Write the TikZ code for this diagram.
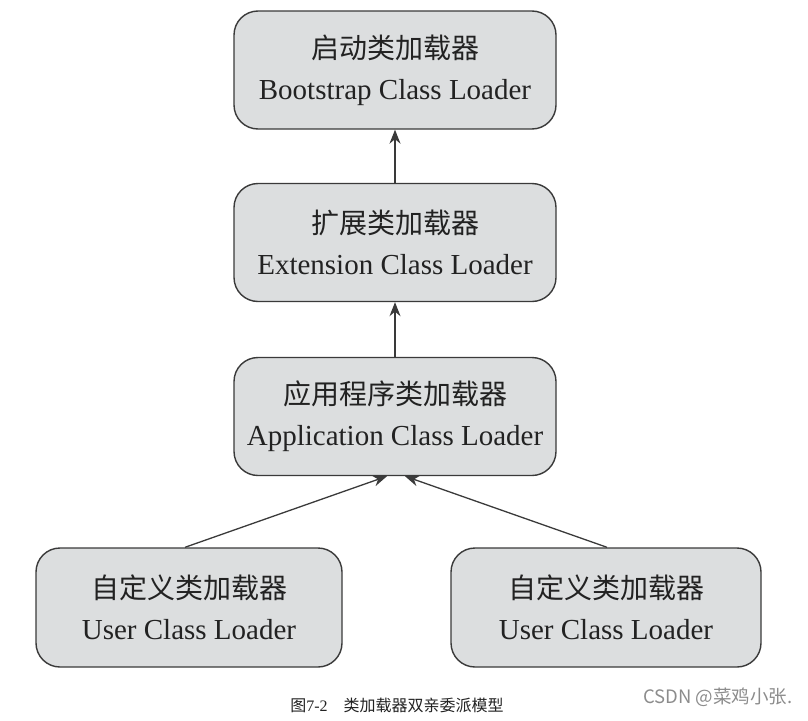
\documentclass[tikz,border=0pt]{standalone}
\usepackage{fontspec}
\setmainfont{Liberation Serif}
\newfontfamily\cjk{Noto Sans CJK SC}
\usetikzlibrary{arrows.meta,calc}
\definecolor{boxfill}{HTML}{DCDEDF}
\definecolor{boxdraw}{HTML}{3A3A3A}
\definecolor{txt}{HTML}{222222}
\begin{document}
\begin{tikzpicture}[x=1pt,y=-1pt,
  loader/.style={draw=boxdraw, fill=boxfill, line width=1.4pt, rounded corners=24pt,
    minimum height=118pt, align=center, text=txt, inner sep=0pt,
    font=\fontsize{29}{41}\selectfont},
  arr/.style={draw=boxdraw, line width=1.3pt, -{Stealth[length=14pt,width=11pt]}}
]
\useasboundingbox (0,0) rectangle (808,720);
\node[loader, minimum width=322pt] (boot) at (395,70) {{\cjk\fontsize{28}{41}\selectfont 启动类加载器}\\Bootstrap Class Loader};
\node[loader, minimum width=322pt] (ext) at (395,242.5) {{\cjk\fontsize{28}{41}\selectfont 扩展类加载器}\\Extension Class Loader};
\node[loader, minimum width=322pt] (app) at (395,416.5) {{\cjk\fontsize{28}{41}\selectfont 应用程序类加载器}\\Application Class Loader};
\node[loader, minimum width=306pt, minimum height=119pt] (lu) at (189,607.5) {{\cjk\fontsize{28}{41}\selectfont 自定义类加载器}\\User Class Loader};
\node[loader, minimum width=310pt, minimum height=119pt] (ru) at (606,607.5) {{\cjk\fontsize{28}{41}\selectfont 自定义类加载器}\\User Class Loader};
\draw[arr] (ext.north) -- (boot.south);
\draw[arr] (app.north) -- (ext.south);
\draw[arr] ($(lu.north)+(-4,0)$) -- ($(app.south)+(-8,0)$);
\draw[arr] ($(ru.north)+(1,0)$) -- ($(app.south)+(10,0)$);
\node[text=txt, font=\fontsize{16}{18}\selectfont, inner sep=0pt] (cap) at (397,705) {{\cjk 图}7-2\hspace{1em}{\cjk 类加载器双亲委派模型}};
\node[text=black!45, font=\cjk\fontsize{18.5}{20}\selectfont, inner sep=0pt] (wm) at (718,697) {CSDN @菜鸡小张.};
\end{tikzpicture}
\end{document}
